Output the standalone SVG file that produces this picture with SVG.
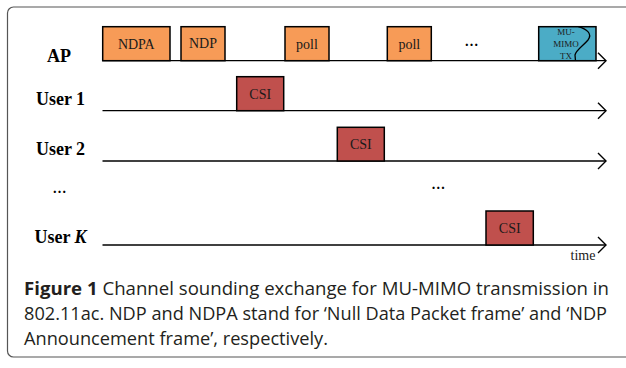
<svg xmlns="http://www.w3.org/2000/svg" width="626" height="368" viewBox="0 0 626 368">
<style>
.lbl{font-family:"Liberation Serif","Times New Roman",serif;font-weight:bold;font-size:18px;fill:#000;text-anchor:middle}
.bt{font-family:"Liberation Serif","Times New Roman",serif;font-size:14px;fill:#1a1a1a;text-anchor:middle}
.mt{font-family:"Liberation Serif","Times New Roman",serif;font-size:9px;fill:#1a1a1a;text-anchor:middle}
.box{stroke:#000;stroke-width:1.5}
.or{fill:#F79B57}
.rd{fill:#C0504D}
.bl{fill:#4BACC6}
.tl{stroke:#000;stroke-width:1.3;fill:none}
.dots{font-family:"Liberation Serif","Times New Roman",serif;font-weight:bold;font-size:14px;fill:#000;text-anchor:middle}
.cap{font-family:"Open Sans","Noto Sans",sans-serif;font-size:18.2px;fill:#231f20}
</style>
<defs>
<marker id="ah" viewBox="0 0 10 18" refX="9" refY="9" markerWidth="10" markerHeight="18" markerUnits="userSpaceOnUse" orient="auto">
<path d="M1,1 L9,9 L1,17" fill="none" stroke="#000" stroke-width="1.4"/>
</marker>
</defs>
<rect id="frame" x="7.5" y="7" width="640" height="350" rx="6" ry="6" fill="#fff" stroke="#555" stroke-width="1.2"/>
<g id="connectors">
<line class="tl" x1="102.5" y1="60.7" x2="606" y2="60.7" marker-end="url(#ah)"/>
<line class="tl" x1="102.5" y1="110.7" x2="606" y2="110.7" marker-end="url(#ah)"/>
<line class="tl" x1="102.5" y1="161" x2="606" y2="161" marker-end="url(#ah)"/>
<line class="tl" x1="102.5" y1="245" x2="606" y2="245" marker-end="url(#ah)"/>
</g>
<g id="labels">
<text class="lbl" x="59" y="61.5">AP</text>
<text class="lbl" x="60.5" y="105">User 1</text>
<text class="lbl" x="60.5" y="155">User 2</text>
<text class="dots" x="59.5" y="193">…</text>
<text class="lbl" x="60.5" y="243"><tspan>User </tspan><tspan font-style="italic">K</tspan></text>
</g>
<g id="ndpa"><rect class="box or" x="102.7" y="26.7" width="67.3" height="34"/><text class="bt" x="136.3" y="48.5">NDPA</text></g>
<g id="ndp"><rect class="box or" x="181" y="26.7" width="44" height="34"/><text class="bt" x="203" y="47.5" font-size="12">NDP</text></g>
<g id="poll1"><rect class="box or" x="285" y="26.7" width="44" height="34"/><text class="bt" x="307" y="48.5">poll</text></g>
<g id="poll2"><rect class="box or" x="387.3" y="26.7" width="44" height="34"/><text class="bt" x="409.3" y="48.5">poll</text></g>
<text class="dots" x="471.5" y="46">…</text>
<g id="mumimo"><rect class="box bl" x="538.7" y="26.7" width="57.3" height="34"/>
<text class="mt" x="566" y="35">MU-</text>
<text class="mt" x="566" y="47">MIMO</text>
<text class="mt" x="566" y="58.5">TX</text>
<path d="M578.3,26.7 C586,29 593,33 588,40 C583,46 576,50 575,55 L575.5,60.7" fill="none" stroke="#000" stroke-width="1.3"/>
</g>
<g id="csi1"><rect class="box rd" x="236.7" y="76.7" width="47" height="34"/><text class="bt" x="260.2" y="99">CSI</text></g>
<g id="csi2"><rect class="box rd" x="337.3" y="127.3" width="47" height="33.7"/><text class="bt" x="360.8" y="149">CSI</text></g>
<text class="dots" x="438.3" y="189">…</text>
<g id="csik"><rect class="box rd" x="486" y="211" width="47.3" height="34"/><text class="bt" x="509.7" y="233">CSI</text></g>
<text class="bt" x="583" y="260" font-size="13.5">time</text>
<g id="caption">
<text class="cap" x="24" y="295" textLength="585" lengthAdjust="spacingAndGlyphs"><tspan font-weight="bold">Figure 1</tspan>  Channel sounding exchange for MU-MIMO transmission in</text>
<text class="cap" x="24" y="320" textLength="583" lengthAdjust="spacingAndGlyphs">802.11ac. NDP and NDPA stand for ‘Null Data Packet frame’ and ‘NDP</text>
<text class="cap" x="24" y="345" textLength="304" lengthAdjust="spacingAndGlyphs">Announcement frame’, respectively.</text>
</g>
</svg>
